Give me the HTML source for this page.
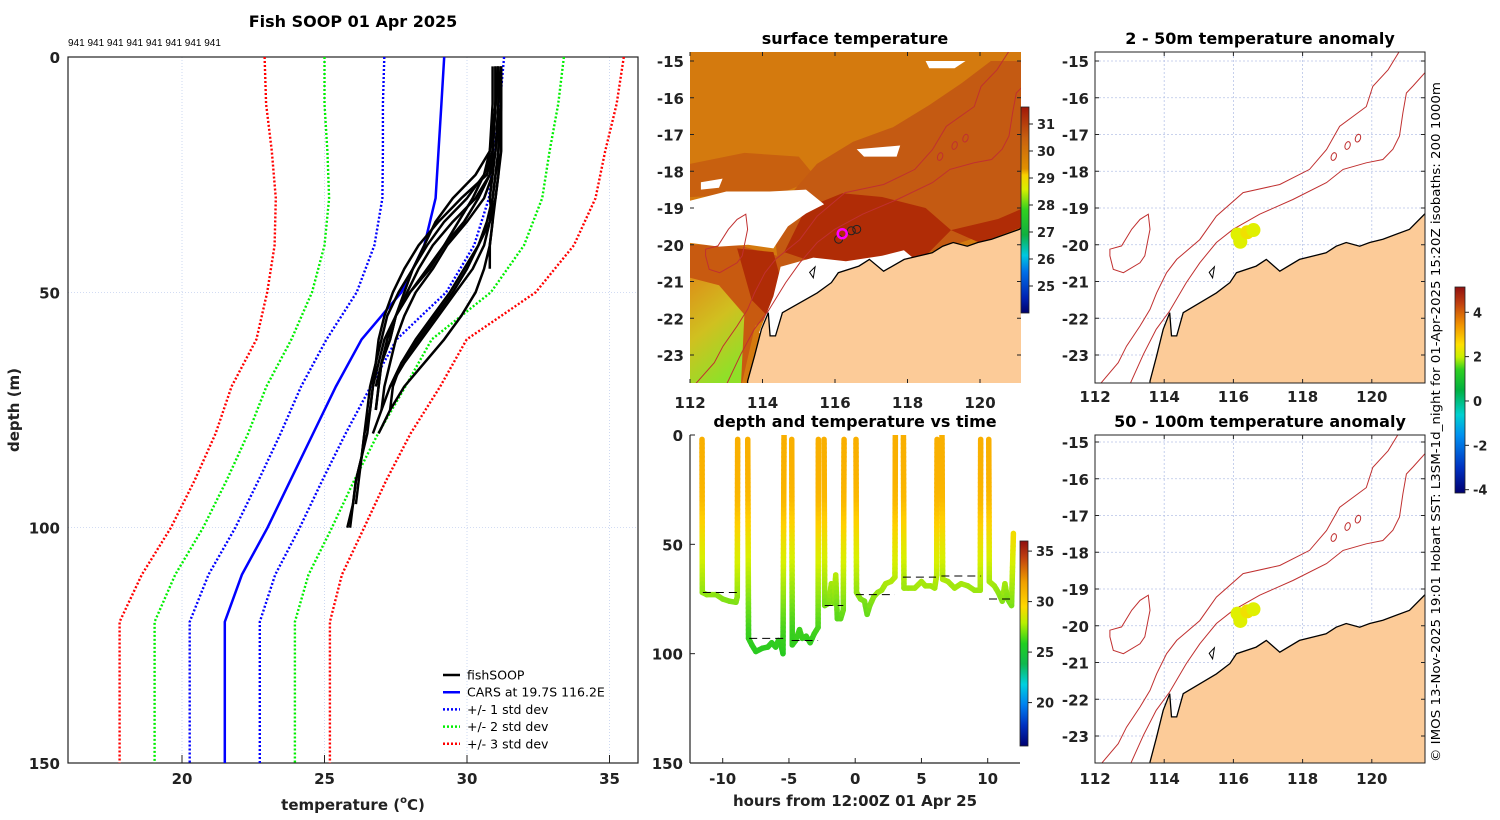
<!DOCTYPE html>
<html><head><meta charset="utf-8"><title>Fish SOOP 01 Apr 2025</title>
<style>
html,body{margin:0;padding:0;background:#fff;}
svg{display:block;font-family:"DejaVu Sans","Liberation Sans",sans-serif;}
.tk{font-weight:bold;font-size:15px;fill:#222;}
.ttl{font-weight:bold;font-size:16px;fill:#000;}
</style></head>
<body>
<svg id="chart" width="1500" height="820" viewBox="0 0 1500 820" xmlns="http://www.w3.org/2000/svg">
<defs>
<linearGradient id="gSST" x1="0" y1="1" x2="0" y2="0">
<stop offset="0" stop-color="#00006a"/><stop offset="0.07" stop-color="#0020b0"/><stop offset="0.2" stop-color="#0070e8"/><stop offset="0.28" stop-color="#00c8e0"/><stop offset="0.38" stop-color="#10b040"/><stop offset="0.5" stop-color="#30d020"/><stop offset="0.6" stop-color="#d8f000"/><stop offset="0.67" stop-color="#f8d000"/><stop offset="0.7" stop-color="#e09000"/><stop offset="0.85" stop-color="#c86010"/><stop offset="1" stop-color="#a01808"/>
</linearGradient>
<linearGradient id="gTS" x1="0" y1="1" x2="0" y2="0">
<stop offset="0" stop-color="#000070"/><stop offset="0.1" stop-color="#0030c0"/><stop offset="0.2" stop-color="#0080f0"/><stop offset="0.3" stop-color="#00d0e0"/><stop offset="0.4" stop-color="#10b850"/><stop offset="0.5" stop-color="#20d020"/><stop offset="0.6" stop-color="#b8f000"/><stop offset="0.68" stop-color="#ffd800"/><stop offset="0.8" stop-color="#f0a000"/><stop offset="0.92" stop-color="#c04010"/><stop offset="1" stop-color="#901010"/>
</linearGradient>
<linearGradient id="gAN" x1="0" y1="1" x2="0" y2="0">
<stop offset="0" stop-color="#000070"/><stop offset="0.12" stop-color="#0030c0"/><stop offset="0.28" stop-color="#0090f0"/><stop offset="0.38" stop-color="#00d0d0"/><stop offset="0.5" stop-color="#00b040"/><stop offset="0.6" stop-color="#30d020"/><stop offset="0.66" stop-color="#c8f000"/><stop offset="0.72" stop-color="#ffe000"/><stop offset="0.82" stop-color="#f09000"/><stop offset="0.92" stop-color="#c04010"/><stop offset="1" stop-color="#901010"/>
</linearGradient>
<linearGradient id="gLL" x1="0" y1="0" x2="0.4" y2="1">
<stop offset="0" stop-color="#dc9018"/><stop offset="0.5" stop-color="#d0c020"/><stop offset="1" stop-color="#90e028"/>
</linearGradient>
<clipPath id="cpSST"><rect x="690" y="52" width="331" height="331"/></clipPath>
<clipPath id="cpA1"><rect x="1095" y="52" width="330" height="331"/></clipPath>
<clipPath id="cpA2"><rect x="1095" y="435" width="330" height="328"/></clipPath>
<clipPath id="cpTS"><rect x="690" y="435" width="330" height="328"/></clipPath>
</defs>
</svg>
<script>
// ---------- data: CARS climatology ----------
const carsDepth = [0,10,20,30,40,50,60,70,80,90,100,110,120,150];
const carsMean  = [29.2,29.1,29.0,28.9,28.5,27.7,26.3,25.4,24.6,23.8,23.0,22.1,21.5,21.5];
const carsStd   = [2.1,2.05,1.95,1.87,1.75,1.57,1.23,1.22,1.14,1.12,1.13,1.17,1.23,1.23];
// ---------- data: fishSOOP profiles ----------
const profDepth = [2,10,20,25,30,35,40,45,50,55,60,65,70,75,80,85,90,95,100];
const prof1  = [31.1,31.1,31.0,30.9,30.6,30.0,29.3,28.8,28.2,27.8,27.5,27.3,27.1,27.0];
const prof2  = [31.2,31.2,31.2,31.1,31.0,30.8,30.4,29.9,29.4,28.8,28.2,27.7,27.4,27.3];
const prof3  = [30.9,30.9,30.8,30.6,30.0,29.2,28.6,28.1,27.6,27.2,27.0,26.8,26.7,26.6,26.4,26.3,26.1,26.0,25.8];
const prof4  = [31.0,31.0,30.9,30.7,29.8,29.0,28.3,27.8,27.4,27.1,26.9,26.8,26.6,26.5,26.4,26.3,26.2,26.1];
const prof5  = [31.2,31.2,31.1,31.1,31.0,30.9,30.8,30.6,30.3,29.8,29.2,28.5,27.8,27.3,26.9];
const prof6  = [31.1,31.0,30.9,30.6,30.2,29.7,29.2,28.7,28.0,27.5,27.3,27.0,26.9,26.8];
const prof7  = [31.2,31.2,31.1,31.0,30.9,30.7,30.4,30.0,29.5,28.9,28.3,27.7,27.3];
const prof8  = [31.0,31.0,30.9,30.8,30.3,29.5,28.8,28.3,27.9,27.5,27.2,27.0,26.9,26.8];
const prof9  = [31.1,31.1,31.0,30.8,30.4,29.9,29.2,28.6,28.0,27.5,27.1,26.9,26.7,26.6,26.5,26.3,26.1,26.0,25.9];
const prof10 = [31.0,31.0,30.9,30.9,30.8,30.9,30.8,30.8];
const prof11 = [31.1,31.0,30.8,30.3,29.5,28.9,28.5,28.1,27.8,27.5,27.3,27.0,26.8];
const prof12 = [31.2,31.1,31.1,31.0,30.9,30.8,30.6,30.2,29.6,29.0,28.4,27.8,27.3,27.0,26.7];
const profiles = [prof1,prof2,prof3,prof4,prof5,prof6,prof7,prof8,prof9,prof10,prof11,prof12];
const xTicksT = [20,25,30,35];
const yTicksD = [0,50,100,150];
// ---------- data: time series casts [hour, depth] ----------
const cast1 = [[-11.56,2],[-11.54,72],[-11.2,73],[-10.5,73],[-10,75],[-9.5,76],[-9.0,76.5],[-8.9,74],[-8.87,2]];
const cast2 = [[-8.11,2],[-8.05,93],[-7.8,96],[-7.5,99],[-7.0,97.5],[-6.6,97],[-6.3,95],[-6.0,97],[-5.8,94],[-5.6,96],[-5.45,100],[-5.37,0]];
const cast3 = [[-4.79,2],[-4.75,96],[-4.5,94],[-4.2,89],[-4.0,93],[-3.7,92],[-3.4,95],[-3.1,91],[-2.8,88],[-2.78,2]];
const cast4 = [[-2.35,2],[-2.3,78],[-2.0,77],[-1.8,68],[-1.6,77],[-1.47,64],[-1.35,84],[-1.1,84],[-0.9,80],[-0.84,2]];
const cast5 = [[0.06,2],[0.1,72],[0.4,75],[0.7,76],[0.9,82],[1.1,78],[1.4,74],[1.7,72],[2.0,71],[2.3,68],[2.7,67],[3.0,65],[3.03,0]];
const cast6 = [[3.64,0],[3.68,70],[4.0,70],[4.5,70],[5.0,67],[5.3,69],[5.7,69],[6.0,70],[6.15,64],[6.18,2]];
const cast7 = [[6.55,0],[6.6,66],[7.0,67],[7.5,70],[8.0,68],[8.5,69],[9.0,71],[9.44,71],[9.47,2]];
const cast8 = [[10.08,2],[10.12,67],[10.5,69],[10.8,72],[11.1,76],[11.3,68],[11.5,75],[11.8,78],[11.94,45]];
const casts = [cast1,cast2,cast3,cast4,cast5,cast6,cast7,cast8];
const dashStart = [-11.5,-8.0,-4.8,-2.3,0.05,3.6,6.5,10.1];
const dashEnd   = [-8.9,-5.3,-2.8,-0.9,3.0,6.1,9.5,12.0];
const dashDepth = [72,93,94,78,73,65,64.5,75];
const obsDepth = [0,20,30,40,50,60,70,80,90,100];
const obsTemp  = [30.8,30.7,30.5,29.8,29.0,28.3,27.6,26.8,26.0,25.6];
const tsXTicks = [-10,-5,0,5,10];
const tsYTicks = [0,50,100,150];
// ---------- data: maps ----------
const lonTicks = [112,114,116,118,120];
const latTicks = [-15,-16,-17,-18,-19,-20,-21,-22,-23];
const landPoly = [[113.59,-23.9],[113.59,-23.71],[113.78,-23.03],[113.97,-22.3],[114.16,-21.85],[114.21,-22.48],[114.36,-22.48],[114.55,-21.85],[115.03,-21.58],[115.51,-21.31],[115.9,-21.03],[116.09,-20.76],[116.66,-20.58],[116.95,-20.4],[117.34,-20.72],[117.91,-20.4],[118.68,-20.22],[118.97,-20.04],[119.26,-19.94],[119.65,-20.04],[119.94,-19.94],[120.32,-19.85],[121.09,-19.58],[121.7,-19.0],[121.7,-23.9]];
const iso200 = [[112.96,-23.9],[113.4,-22.98],[113.77,-22.3],[114.16,-21.8],[114.64,-21.03],[115.03,-20.49],[115.51,-19.94],[115.99,-19.58],[116.76,-19.17],[117.72,-18.77],[118.69,-18.31],[119.17,-17.95],[119.84,-17.77],[120.32,-17.68],[120.61,-17.4],[120.8,-17.04],[120.9,-16.41],[121.0,-15.87],[121.19,-15.68],[121.6,-15.25]];
const iso1000 = [[112.05,-23.9],[112.67,-23.21],[112.91,-22.76],[113.3,-22.21],[113.59,-21.76],[113.78,-21.31],[114.07,-20.76],[114.36,-20.4],[115.03,-19.86],[115.51,-19.22],[116.28,-18.58],[117.34,-18.36],[118.2,-17.95],[118.69,-17.41],[119.07,-16.78],[119.84,-16.24],[120.03,-15.69],[120.47,-15.24],[120.82,-14.7]];
const island = [[112.43,-20.12],[112.77,-20.03],[113.06,-19.58],[113.3,-19.31],[113.54,-19.17],[113.59,-19.58],[113.44,-20.3],[113.3,-20.49],[112.82,-20.76],[112.53,-20.67],[112.43,-20.3]];
const seamounts = [[118.9,-17.6],[119.3,-17.3],[119.6,-17.1]];
const shoal = [[115.3,-20.75],[115.45,-20.6],[115.4,-20.9]];
const anomLon = [116.12,116.2,116.4,116.58];
const anomLat = [-19.72,-19.92,-19.66,-19.6];
const anomVal = [1.9,1.8,2.1,1.9];
const shipLon = [116.2,116.1,116.45,116.6];
const shipLat = [-19.7,-19.85,-19.62,-19.58];

const NS='http://www.w3.org/2000/svg';
const svg=document.getElementById('chart');
function el(tag,attrs,parent){const e=document.createElementNS(NS,tag);for(const k in attrs)e.setAttribute(k,attrs[k]);(parent||svg).appendChild(e);return e;}
function tx(s,attrs,parent){const e=el('text',attrs,parent);e.textContent=s;return e;}
function interp(xs,ys,x){if(x<=xs[0])return ys[0];for(let i=1;i<xs.length;i++){if(x<=xs[i]){const f=(x-xs[i-1])/(xs[i]-xs[i-1]);return ys[i-1]+f*(ys[i]-ys[i-1]);}}return ys[ys.length-1];}

// ================= PROFILE PANEL =================
const pX=T=>68+(T-16)*28.5;
const pY=d=>57+d*706/150;
const gP=el('g',{});


xTicksT.forEach(t=>{const l=el('line',{x1:pX(t),x2:pX(t),y1:57,y2:763,stroke:'#b8c8ec','stroke-width':0.7,'stroke-dasharray':'1,2'},gP);


const k=el('line',{x1:pX(t),x2:pX(t),y1:763,y2:755,stroke:'#222'},gP);


const lb=tx(String(t),{x:pX(t),y:784,'text-anchor':'middle',class:'tk'},gP);

});
yTicksD.forEach(d=>{if(d>0&&d<150){const l=el('line',{x1:68,x2:638,y1:pY(d),y2:pY(d),stroke:'#b8c8ec','stroke-width':0.7,'stroke-dasharray':'1,2'},gP);

}
const lb=tx(String(d),{x:60,y:pY(d)+6,'text-anchor':'end',class:'tk'},gP);

});
const box=el('rect',{x:68,y:57,width:570,height:706,fill:'none',stroke:'#222','stroke-width':1.2},gP);


function ptsStr(xs,ys){return xs.map((x,i)=>x.toFixed(1)+','+ys[i].toFixed(1)).join(' ');}
const stdCols=['#0000ff','#00ee00','#ff0000'];
[1,2,3].forEach(k=>{[-1,1].forEach(s=>{
 const xs=carsDepth.map((d,i)=>pX(carsMean[i]+s*k*carsStd[i]));const ys=carsDepth.map(pY);
 const pl=el('polyline',{points:ptsStr(xs,ys),fill:'none',stroke:stdCols[k-1],'stroke-width':2.4,'stroke-dasharray':'2,2'},gP);
 
 });});
const cm=el('polyline',{points:ptsStr(carsMean.map(pX),carsDepth.map(pY)),fill:'none',stroke:'#0000ff','stroke-width':2.5},gP);


profiles.forEach(p=>{const ds=profDepth.slice(0,p.length);
 const pl=el('polyline',{points:ptsStr(p.map(pX),ds.map(pY)),fill:'none',stroke:'#000','stroke-width':2.5,'stroke-linejoin':'round'},gP);
 
 });
const tt=tx('Fish SOOP 01 Apr 2025',{x:353,y:27,'text-anchor':'middle',class:'ttl','font-size':17},gP);


const ids=tx('941 941 941 941 941 941 941 941',{x:68,y:46,'font-size':10,fill:'#000','font-family':'Liberation Sans, sans-serif'},gP);


const yl=tx('depth (m)',{x:0,y:0,transform:'translate(19,410) rotate(-90)','text-anchor':'middle',class:'tk','font-size':16},gP);


const xl=el('text',{x:353,y:810,'text-anchor':'middle',class:'tk','font-size':16},gP);
xl.innerHTML='temperature (<tspan font-size="10" dy="-7">o</tspan><tspan dy="7">C)</tspan>';


const legItems=[['fishSOOP','#000',null],['CARS at 19.7S 116.2E','#0000ff',null],['+/- 1 std dev','#0000ff','2,2'],['+/- 2 std dev','#00ee00','2,2'],['+/- 3 std dev','#ff0000','2,2']];
legItems.forEach((it,i)=>{const y=675+i*17.2;const g=el('g',{},gP);


const a={x1:443,x2:460,y1:y,y2:y,stroke:it[1],'stroke-width':2.5};if(it[2])a['stroke-dasharray']=it[2];el('line',a,g);
tx(it[0],{x:467,y:y+4.5,'font-size':12.5,fill:'#000'},g);});

// ================= MAP HELPERS =================
function mkProj(x0,lonPx,lon0,y0,latPx,lat0){return {x:lon=>x0+(lon-lon0)*lonPx,y:lat=>y0+(lat0-lat)*latPx};}
function polyStr(P,pts){return pts.map(p=>P.x(p[0]).toFixed(1)+','+P.y(p[1]).toFixed(1)).join(' ');}
function mapAxes(g,P,x0,y0,w,h,xlabY){
 lonTicks.forEach(l=>{const x=P.x(l);const lb=tx(String(l),{x:x,y:xlabY,'text-anchor':'middle',class:'tk'},g);
 
 
 el('line',{x1:x,x2:x,y1:y0,y2:y0+4,stroke:'#222'},g);el('line',{x1:x,x2:x,y1:y0+h,y2:y0+h-4,stroke:'#222'},g);});
 latTicks.forEach(l=>{const y=P.y(l);if(y<y0||y>y0+h)return;const lb=tx(String(l),{x:x0-6,y:y+6,'text-anchor':'end',class:'tk'},g);
 
 
 el('line',{x1:x0,x2:x0+4,y1:y,y2:y,stroke:'#222'},g);el('line',{x1:x0+w,x2:x0+w-4,y1:y,y2:y,stroke:'#222'},g);});
}
function mapGrid(g,P,x0,y0,w,h){lonTicks.forEach(l=>{el('line',{x1:P.x(l),x2:P.x(l),y1:y0,y2:y0+h,stroke:'#b8c4e8','stroke-width':0.8,'stroke-dasharray':'2,2'},g);});
 latTicks.forEach(l=>{el('line',{x1:x0,x2:x0+w,y1:P.y(l),y2:P.y(l),stroke:'#b8c4e8','stroke-width':0.8,'stroke-dasharray':'2,2'},g);});}
function geo(g,P,ann){
 const i1=el('polyline',{points:polyStr(P,iso1000),fill:'none',stroke:'#c03030','stroke-width':1},g);
 
 
 const i2=el('polyline',{points:polyStr(P,iso200),fill:'none',stroke:'#c03030','stroke-width':1},g);
 
 
 const isl=el('polygon',{points:polyStr(P,island),fill:'none',stroke:'#c03030','stroke-width':1},g);
 
 
 seamounts.forEach(s=>{el('ellipse',{cx:P.x(s[0]),cy:P.y(s[1]),rx:2.5,ry:4,fill:'none',stroke:'#c03030','stroke-width':1,transform:'rotate(20 '+P.x(s[0])+' '+P.y(s[1])+')'},g);});
 el('polygon',{points:polyStr(P,shoal),fill:'none',stroke:'#000','stroke-width':1},g);
 const land=el('polygon',{points:polyStr(P,landPoly),fill:'#fccb98',stroke:'#000','stroke-width':1.3},g);
 
 
}
function anomColor(v){const stops=[[-4,'#000070'],[-2,'#0080f0'],[0,'#00b040'],[1,'#60d820'],[1.5,'#c8f000'],[2,'#e0f000'],[2.5,'#f0e000'],[3,'#f8a000'],[4,'#d05010'],[5,'#901010']];
 for(let i=1;i<stops.length;i++)if(v<=stops[i][0])return stops[i][1];return stops[stops.length-1][1];}
function colorbar(g,x,y,w,h,grad,ticks,vmin,vmax,name){
 const r=el('rect',{x:x,y:y,width:w,height:h,fill:'url(#'+grad+')',stroke:'#222','stroke-width':0.8},g);
 
 
 ticks.forEach(t=>{const ty=y+h-(t-vmin)/(vmax-vmin)*h;el('line',{x1:x+w,x2:x+w+4,y1:ty,y2:ty,stroke:'#222'},g);
 const lb=tx(String(t),{x:x+w+8,y:ty+5,'font-weight':'bold','font-size':13,fill:'#222'},g);
 
 });}

// ================= SST MAP =================
const PS=mkProj(690,36.25,112,61,36.75,-15);
const gS=el('g',{});


const gSc=el('g',{'clip-path':'url(#cpSST)'},gS);
el('rect',{x:690,y:52,width:331,height:331,fill:'#d47a0e'},gSc);
el('polygon',{points:polyStr(PS,[[112,-17.8],[113.5,-17.5],[115,-17.6],[115.5,-18.2],[114.5,-18.6],[112,-18.7]]),fill:'#c8600f'},gSc);
el('polygon',{points:polyStr(PS,[[114.8,-18.6],[115.5,-17.8],[116.5,-17.2],[117.6,-16.8],[118.6,-16.2],[119.5,-15.6],[120.3,-15.0],[121.7,-15.0],[121.7,-19.2],[119,-20.1],[117,-20.6],[114.5,-21.0],[114.3,-19.5]]),fill:'#c45a12'},gSc);
el('polygon',{points:polyStr(PS,[[115.2,-19.0],[116.2,-18.6],[117.3,-18.7],[118.5,-19.0],[119.2,-19.6],[118.5,-20.3],[117,-20.6],[115.5,-20.5],[114.6,-20.2]]),fill:'#b02c06'},gSc);
el('polygon',{points:polyStr(PS,[[119.2,-19.6],[120.5,-19.3],[121.2,-19.0],[121.5,-19.4],[120,-19.95]]),fill:'#b02c06'},gSc);
el('polygon',{points:polyStr(PS,[[112,-20],[113.3,-20.0],[114.4,-20.3],[114.8,-21.2],[114.5,-21.8],[113.8,-22.2],[113.4,-23.9],[112,-23.9]]),fill:'#c85a10'},gSc);
el('polygon',{points:polyStr(PS,[[113.3,-20.1],[114.3,-20.2],[114.6,-21.3],[114.2,-22],[113.7,-21.5],[113.5,-20.8]]),fill:'#b02c06'},gSc);
el('polygon',{points:polyStr(PS,[[112,-20.9],[112.8,-21.1],[113.5,-21.9],[113.4,-23.9],[112,-23.9]]),fill:'url(#gLL)'},gSc);
const cloud1=el('polygon',{points:polyStr(PS,[[112,-18.8],[113,-18.55],[114.2,-18.55],[115.2,-18.5],[115.7,-18.9],[115.2,-19.15],[114.7,-19.5],[114.3,-20.1],[113.6,-20.0],[112.8,-20.05],[112,-19.95]]),fill:'#fff'},gSc);


el('polygon',{points:polyStr(PS,[[114.5,-20.6],[115.4,-20.35],[116.3,-20.45],[117.3,-20.3],[117.9,-20.15],[118.2,-20.4],[117,-20.9],[115.6,-21.3],[114.8,-21.9],[114.4,-22.7],[113.9,-22.4],[114.3,-21.4]]),fill:'#fff'},gSc);
el('polygon',{points:polyStr(PS,[[116.6,-17.4],[117.8,-17.3],[117.7,-17.6],[116.8,-17.6]]),fill:'#fff'},gSc);
el('polygon',{points:polyStr(PS,[[118.5,-15.0],[119.6,-15.0],[119.3,-15.2],[118.6,-15.2]]),fill:'#fff'},gSc);
el('polygon',{points:polyStr(PS,[[112.3,-18.3],[112.9,-18.2],[112.8,-18.45],[112.3,-18.5]]),fill:'#fff'},gSc);
geo(gSc,PS,false);
shipLon.forEach((l,i)=>{el('circle',{cx:PS.x(l),cy:PS.y(shipLat[i]),r:4,fill:'none',stroke:'#222','stroke-width':1},gSc);});
const ship=el('circle',{cx:PS.x(116.2),cy:PS.y(-19.7),r:4.5,fill:'none',stroke:'#ff00ff','stroke-width':2.5},gSc);


mapAxes(gS,PS,690,52,331,331,408);
const st=tx('surface temperature',{x:855,y:44,'text-anchor':'middle',class:'ttl'},gS);


colorbar(gS,1021,107,8,206,'gSST',[31,30,29,28,27,26,25],24.0,31.63,'sst-colorbar');

// ================= ANOMALY MAPS =================
function anomMap(y0,h,latY0,title,titleY,xlabY,name,cp,blobDy){
 const P=mkProj(1095,34.6,112,latY0,36.75,-15);
 const g=el('g',{});
 
 
 const gc=el('g',{'clip-path':'url(#'+cp+')'},g);
 el('rect',{x:1095,y:y0,width:330,height:h,fill:'#fff'},gc);
 mapGrid(gc,P,1095,y0,330,h);
 geo(gc,P,true);
 anomLon.forEach((l,i)=>{const c=el('circle',{cx:P.x(l),cy:P.y(anomLat[i]+blobDy),r:7,fill:anomColor(anomVal[i])},gc);
 
 });
 el('rect',{x:1095,y:y0,width:330,height:h,fill:'none',stroke:'#222','stroke-width':1},g);
 mapAxes(g,P,1095,y0,330,h,xlabY);
 const t=tx(title,{x:1260,y:titleY,'text-anchor':'middle',class:'ttl'},g);
 
 
}
anomMap(52,331,61,'2 - 50m temperature anomaly',44,402,'anomaly-map-2-50m','cpA1',0);
anomMap(435,328,442,'50 - 100m temperature anomaly',427,784,'anomaly-map-50-100m','cpA2',0.05);
colorbar(svg,1455,287,10,206,'gAN',[4,2,0,-2,-4],-4.15,5.14,'anomaly-colorbar');
const cr=tx('\u00A9 IMOS 13-Nov-2025 19:01 Hobart SST: L3SM-1d_night for 01-Apr-2025 15:20Z isobaths: 200  1000m',{x:0,y:0,transform:'translate(1440,762) rotate(-90)','font-size':12.5,fill:'#000',textLength:680,lengthAdjust:'spacingAndGlyphs','xml:space':'preserve'});



// ================= TIME SERIES =================
const tX=h=>722.7+(h+10)*13.25;
const tY=d=>435+d*328/150;
function tsColor(T){const st=[[16,[0,0,112]],[18,[0,48,192]],[20,[0,128,240]],[22,[0,208,224]],[24,[16,184,80]],[25.5,[32,200,32]],[27,[120,224,24]],[28.5,[216,240,0]],[29.8,[255,208,0]],[31,[248,168,0]],[33,[224,128,16]],[36,[144,16,16]]];
 if(T<=st[0][0])return 'rgb('+st[0][1]+')';for(let i=1;i<st.length;i++){if(T<=st[i][0]){const f=(T-st[i-1][0])/(st[i][0]-st[i-1][0]);const c=st[i-1][1].map((v,j)=>Math.round(v+f*(st[i][1][j]-v)));return 'rgb('+c+')';}}return 'rgb(144,16,16)';}
const gT=el('g',{});


const gTc=el('g',{'clip-path':'url(#cpTS)'},gT);
casts.forEach((c,ci)=>{const g=el('g',{},gTc);
 
 
 for(let i=1;i<c.length;i++){const a=c[i-1],b=c[i];const n=Math.max(1,Math.ceil(Math.abs(b[1]-a[1])/2));
  for(let k=0;k<n;k++){const f0=k/n,f1=(k+1)/n;const h0=a[0]+f0*(b[0]-a[0]),d0=a[1]+f0*(b[1]-a[1]);const h1=a[0]+f1*(b[0]-a[0]),d1=a[1]+f1*(b[1]-a[1]);
   el('line',{x1:tX(h0),y1:tY(d0),x2:tX(h1),y2:tY(d1),stroke:tsColor(interp(obsDepth,obsTemp,(d0+d1)/2)),'stroke-width':5.5,'stroke-linecap':'round'},g);}}});
dashStart.forEach((s,i)=>{const l=el('line',{x1:tX(s),x2:tX(dashEnd[i]),y1:tY(dashDepth[i]),y2:tY(dashDepth[i]),stroke:'#000','stroke-width':1,'stroke-dasharray':'8,5'},gTc);
 
 });
el('line',{x1:690,x2:690,y1:435,y2:763,stroke:'#222','stroke-width':1.2},gT);
el('line',{x1:690,x2:1020,y1:763,y2:763,stroke:'#222','stroke-width':1.2},gT);
tsXTicks.forEach(h=>{el('line',{x1:tX(h),x2:tX(h),y1:763,y2:758,stroke:'#222'},gT);
 const lb=tx(String(h),{x:tX(h),y:784,'text-anchor':'middle',class:'tk'},gT);
 
 });
tsYTicks.forEach(d=>{el('line',{x1:690,x2:695,y1:tY(d),y2:tY(d),stroke:'#222'},gT);
 const lb=tx(String(d),{x:683,y:tY(d)+6,'text-anchor':'end',class:'tk'},gT);
 
 });
const tt2=tx('depth and temperature vs time',{x:855,y:427,'text-anchor':'middle',class:'ttl'},gT);


const hx=tx('hours from 12:00Z 01 Apr 25',{x:855,y:806,'text-anchor':'middle',class:'tk','font-size':16},gT);


colorbar(gT,1020,541,8,205,'gTS',[35,30,25,20],15.7,36,'time-temp-colorbar');
</script>
</body></html>
